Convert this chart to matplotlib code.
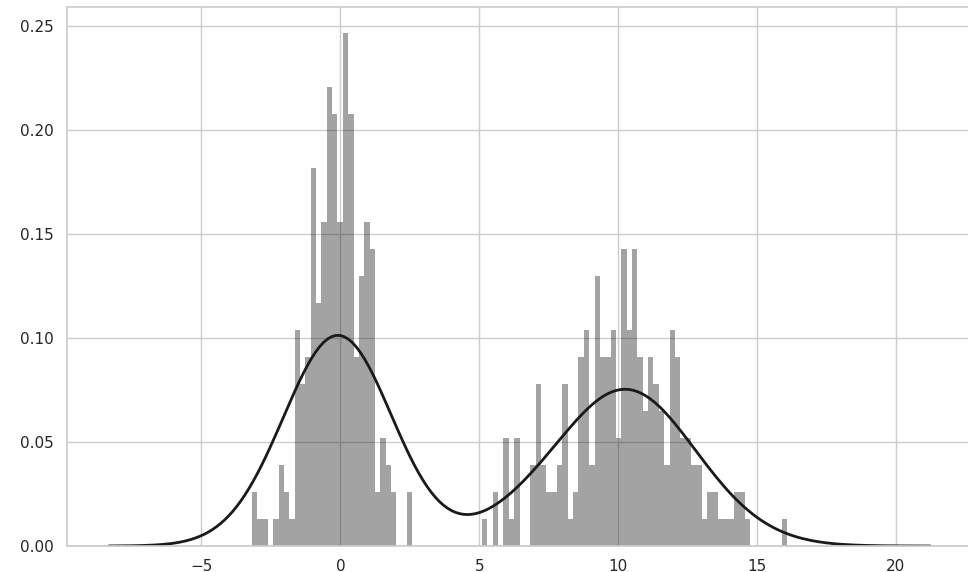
import matplotlib
matplotlib.use('Agg')
import matplotlib.pyplot as plt
import numpy as np
import seaborn as sns

# histogram: 400 samples in 100 equal bins
# spanning the sample min .. max
bin_lo, bin_hi = -3.19, 16.09
counts = [2, 1, 1, 0, 1, 3, 2, 1, 8, 6, 7, 14, 9, 12, 17, 16, 12, 19, 16, 7,
          10, 12, 11, 2, 4, 3, 2, 0, 0, 2,
          0, 0, 0, 0, 0, 0, 0, 0, 0, 0, 0, 0, 0,
          1, 0, 2, 0, 4, 1, 4, 0, 0, 3, 6, 3, 2, 2, 3, 6, 1, 2, 7, 8,
          3, 10, 7, 7, 8, 4, 11, 8, 11, 7, 5, 7, 6, 5, 3, 8, 7, 4, 4, 3,
          3, 1, 2, 2, 1, 1, 1, 2, 2, 1, 0, 0, 0, 0, 0, 0, 1]
kde_bw = 0.312  # bandwidth factor (times the sample std)

sns.set_theme(style='whitegrid')

fig = plt.figure(figsize=(9.68, 5.72), dpi=100)
ax = fig.add_axes([67 / 968, 26 / 572, 904 / 968, 539 / 572])

edges = np.linspace(bin_lo, bin_hi, len(counts) + 1)
centers = (edges[:-1] + edges[1:]) / 2

ax.hist(centers, bins=edges, weights=counts, density=True,
        color='k', alpha=0.4, linewidth=0)
sns.kdeplot(x=centers, weights=counts, bw_method=kde_bw, cut=3,
            color='k', linewidth=2, ax=ax)

ax.set_xlim(-9.84, 22.70)
ax.set_ylim(0, 0.2591)
ax.set_xlabel('')
ax.set_ylabel('')

fig.savefig('out.png', dpi=100)
